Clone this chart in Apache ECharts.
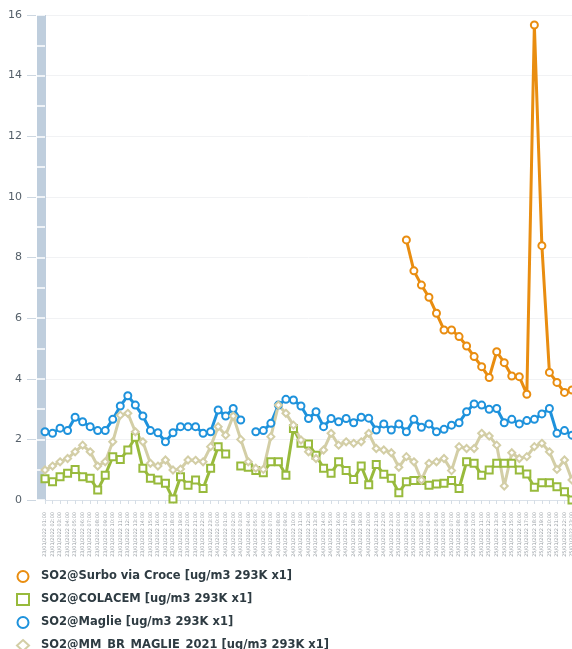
<!DOCTYPE html>
<html>
<head>
<meta charset="utf-8">
<script src="https://cdn.jsdelivr.net/npm/echarts@6/dist/echarts.min.js"></script>
<style>
  html, body { margin: 0; padding: 0; background: #fff; }
  #main { width: 572px; height: 649px; }
</style>
</head>
<body>
<div id="main"></div>
<script>
// hourly categories, 23/01/2022 01:00 onwards
var hours = [];
for (var i = 0; i < 71; i++) {
    var h = 1 + i;
    var day = 23 + Math.floor(h / 24);
    var hh = h % 24;
    hours.push(day + '/01/2022 ' + (hh < 10 ? '0' + hh : hh) + ':00');
}

var yTicks = [0, 2, 4, 6, 8, 10, 12, 14, 16];

var seriesNames = [
    'SO2@Surbo via Croce [ug/m3 293K x1]',
    'SO2@COLACEM [ug/m3 293K x1]',
    'SO2@Maglie [ug/m3 293K x1]',
    'SO2@MM_BR_MAGLIE_2021 [ug/m3 293K x1]'
];

var surbo = Array(48).fill(null).concat([
    8.58, 7.56, 7.09, 6.69, 6.16, 5.61, 5.61, 5.39, 5.08, 4.73,
    4.40, 4.04, 4.89, 4.53, 4.09, 4.07, 3.49, 15.67, 8.39, 4.21,
    3.88, 3.55, 3.63
]);

var colacem = [
    0.70, 0.60, 0.77, 0.88, 1.01, 0.77, 0.72, 0.33, 0.82, 1.43,
    1.34, 1.65, 2.07, 1.05, 0.72, 0.66, 0.55, 0.03, 0.77, 0.49,
    0.66, 0.38, 1.05, 1.76, 1.52, null, 1.12, 1.08, 0.97, 0.90,
    1.26, 1.26, 0.82, 2.36, 1.87, 1.85, 1.48, 1.05, 0.88, 1.26,
    0.97, 0.68, 1.12, 0.50, 1.17, 0.85, 0.72, 0.24, 0.60, 0.64,
    0.64, 0.49, 0.53, 0.55, 0.64, 0.38, 1.26, 1.21, 0.82, 0.99,
    1.21, 1.21, 1.21, 0.99, 0.86, 0.42, 0.57, 0.57, 0.44, 0.27,
    0.00
];

var maglie = [
    2.25, 2.20, 2.37, 2.29, 2.73, 2.58, 2.42, 2.29, 2.29, 2.66,
    3.10, 3.44, 3.13, 2.77, 2.29, 2.22, 1.92, 2.22, 2.42, 2.42,
    2.42, 2.20, 2.25, 2.97, 2.77, 3.02, 2.64, null, 2.25, 2.29,
    2.53, 3.13, 3.32, 3.30, 3.10, 2.69, 2.91, 2.42, 2.69, 2.58,
    2.69, 2.55, 2.73, 2.70, 2.31, 2.51, 2.31, 2.51, 2.25, 2.66,
    2.40, 2.51, 2.25, 2.33, 2.47, 2.55, 2.91, 3.17, 3.13, 2.99,
    3.02, 2.55, 2.66, 2.51, 2.62, 2.66, 2.84, 3.02, 2.20, 2.29,
    2.14
];

var mmBr = [
    0.99, 1.12, 1.26, 1.37, 1.59, 1.81, 1.59, 1.12, 1.26, 1.92,
    2.80, 2.86, 2.25, 1.92, 1.21, 1.12, 1.32, 0.99, 1.02, 1.32,
    1.31, 1.26, 1.76, 2.42, 2.14, 2.77, 2.00, 1.26, 1.05, 1.01,
    2.09, 3.13, 2.86, 2.47, 1.98, 1.59, 1.37, 1.65, 2.20, 1.81,
    1.92, 1.87, 1.92, 2.20, 1.70, 1.65, 1.56, 1.08, 1.43, 1.26,
    0.66, 1.21, 1.26, 1.37, 0.97, 1.76, 1.70, 1.70, 2.20, 2.11,
    1.81, 0.46, 1.56, 1.37, 1.43, 1.76, 1.87, 1.59, 1.01, 1.32,
    0.66
];

var colors = ['#e98d10', '#98ba3c', '#1e92dc', '#d3cea6'];
var symbols = ['emptyCircle', 'emptyRect', 'emptyCircle', 'emptyDiamond'];
var seriesData = [surbo, colacem, maglie, mmBr];

var myChart = echarts.init(document.getElementById('main'));

var yBase = {
    type: 'value',
    min: yTicks[0],
    max: yTicks[yTicks.length - 1],
    interval: 2,
    position: 'left'
};

var series = [];
for (var s = 0; s < seriesNames.length; s++) {
    series.push({
        name: seriesNames[s],
        type: 'line',
        data: seriesData[s],
        symbol: symbols[s],
        symbolSize: 7,
        connectNulls: false,
        showAllSymbol: true,
        lineStyle: { width: 3, color: colors[s] },
        itemStyle: { color: colors[s], borderWidth: 2.2 },
        emphasis: { disabled: true },
        animation: false
    });
}

var option = {
    color: colors,
    animation: false,
    grid: {
        left: 45,
        top: 15,
        right: 0,
        bottom: 149,
        outerBoundsMode: 'none'
    },
    legend: {
        orient: 'vertical',
        left: 16,
        top: 570,
        height: 120,
        padding: 0,
        itemWidth: 12,
        itemHeight: 11,
        itemGap: 10,
        data: seriesNames.map(function (n, k) { return { name: n, icon: symbols[k] }; }),
        itemStyle: { borderWidth: 3 },
        textStyle: {
            fontFamily: 'DejaVu Sans',
            fontWeight: 'bold',
            fontSize: 11.5,
            lineHeight: 12,
            padding: [0, 0, 0, 7],
            color: '#2e3b42'
        }
    },
    xAxis: [{
        type: 'category',
        data: hours,
        boundaryGap: false,
        position: 'bottom',
        offset: 6,
        axisLine: { lineStyle: { color: '#d6dee6' } },
        axisTick: { show: true, interval: 0, length: 4, lineStyle: { color: '#d6dee6' } },
        axisLabel: {
            interval: 0,
            rotate: 90,
            fontSize: 5,
            fontFamily: 'DejaVu Sans',
            color: '#9aa0a6',
            margin: 6
        },
        splitLine: { show: false }
    }, {
        type: 'category',
        data: hours,
        boundaryGap: false,
        position: 'bottom',
        offset: 0,
        axisLine: { lineStyle: { color: '#dbe2ea' } },
        axisTick: { show: false },
        axisLabel: { show: false },
        splitLine: { show: false }
    }],
    yAxis: [
        Object.assign({}, yBase, {
            offset: 9,
            axisLine: { show: false },
            axisTick: { show: true, length: 9, lineStyle: { color: '#cdd7e1' } },
            axisLabel: { fontSize: 11, fontFamily: 'DejaVu Sans', color: '#55606a', margin: 14 },
            splitLine: { show: true, lineStyle: { color: '#f1f2f4' } }
        }),
        Object.assign({}, yBase, {
            offset: 4,
            axisLine: { show: true, lineStyle: { color: '#bfcedd', width: 9, cap: 'butt' } },
            axisTick: { show: false },
            axisLabel: { show: false },
            splitLine: { show: false }
        }),
        Object.assign({}, yBase, {
            offset: 0,
            axisLine: { show: false },
            axisTick: { show: true, length: 9, lineStyle: { color: '#ffffff', width: 1.5 } },
            minorTick: { show: true, splitNumber: 2, length: 9, lineStyle: { color: '#ffffff', width: 1.5 } },
            axisLabel: { show: false },
            splitLine: { show: false }
        })
    ],
    series: series
};

myChart.setOption(option);
</script>
</body>
</html>
